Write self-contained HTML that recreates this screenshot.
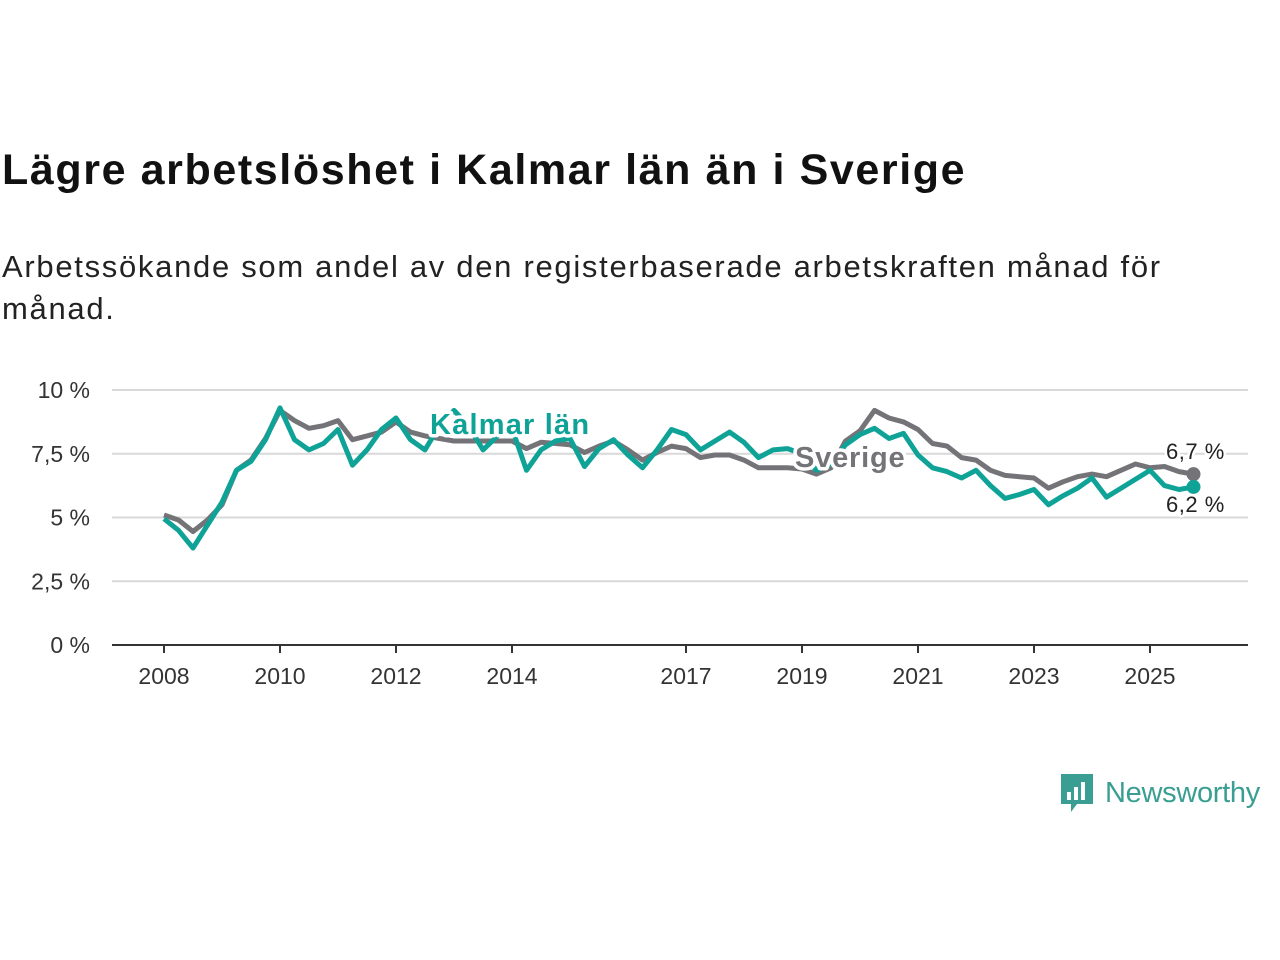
<!DOCTYPE html>
<html><head><meta charset="utf-8"><style>
body{margin:0;width:1280px;height:960px;background:#fff;font-family:"Liberation Sans","DejaVu Sans",sans-serif;overflow:hidden;position:relative}
h1{position:absolute;left:2px;top:146px;margin:0;font-size:43px;font-weight:bold;color:#111;letter-spacing:1.6px}
.sub{position:absolute;left:2px;top:246px;margin:0;font-size:31px;color:#222;line-height:42px;width:1270px;letter-spacing:1.7px}
svg{position:absolute;left:0;top:0}
</style></head><body>
<h1>Lägre arbetslöshet i Kalmar län än i Sverige</h1>
<p class="sub">Arbetssökande som andel av den registerbaserade arbetskraften månad för<br>månad.</p>
<svg id="c" width="1280" height="960"></svg>
<script>
const yTicks=[0,2.5,5,7.5,10];
const yTickLabels=["0 %","2,5 %","5 %","7,5 %","10 %"];
const xTicks=[2008,2010,2012,2014,2017,2019,2021,2023,2025];
const startYear=2008, step=0.25;
const sverige=[5.1,4.9,4.45,4.9,5.5,6.85,7.25,8.1,9.2,8.8,8.5,8.6,8.8,8.05,8.2,8.35,8.75,8.35,8.2,8.1,8.0,8.0,8.0,8.0,8.0,7.7,7.95,7.9,7.85,7.55,7.8,8.0,7.65,7.25,7.55,7.8,7.7,7.35,7.45,7.45,7.25,6.95,6.95,6.95,6.9,6.7,6.95,8.0,8.4,9.2,8.9,8.75,8.45,7.9,7.8,7.35,7.25,6.85,6.65,6.6,6.55,6.15,6.4,6.6,6.7,6.6,6.85,7.1,6.95,7.0,6.8,6.7];
const kalmar=[4.95,4.5,3.8,4.7,5.6,6.85,7.2,8.05,9.3,8.05,7.65,7.9,8.45,7.05,7.65,8.45,8.9,8.05,7.65,8.6,9.2,8.6,7.65,8.2,8.5,6.85,7.65,8.0,8.1,7.0,7.7,8.05,7.45,6.95,7.65,8.45,8.25,7.65,8.0,8.35,7.95,7.35,7.65,7.7,7.5,6.85,7.1,7.85,8.25,8.5,8.1,8.3,7.45,6.95,6.8,6.55,6.85,6.25,5.75,5.9,6.1,5.5,5.85,6.15,6.55,5.8,6.15,6.5,6.85,6.25,6.1,6.2];
const svgNS="http://www.w3.org/2000/svg",svg=document.getElementById('c');
const X=y=>164+(y-2008)*58, Y=v=>645-v*25.5;
function mk(t,a,txt){const e=document.createElementNS(svgNS,t);for(const k in a)e.setAttribute(k,a[k]);if(txt!=null)e.textContent=txt;svg.appendChild(e);return e;}
yTicks.forEach((v,i)=>{
 const g=mk('line',{x1:112,x2:1248,y1:Y(v),y2:Y(v),stroke:v===0?'#333':'#d9d9d9','stroke-width':2});
 
 
 const t=mk('text',{x:90,y:Y(v)+8,'text-anchor':'end','font-size':23,fill:'#333'},yTickLabels[i]);
 
 
});
xTicks.forEach(yr=>{
 const l=mk('line',{x1:X(yr),x2:X(yr),y1:645,y2:653,stroke:'#333','stroke-width':2});
 
 
 const t=mk('text',{x:X(yr),y:684,'text-anchor':'middle','font-size':23,fill:'#333'},String(yr));
 
 
});
function series(arr,col,name){
 const d=arr.map((v,i)=>(i?'L':'M')+X(startYear+i*step).toFixed(1)+','+Y(v).toFixed(1)).join('');
 const p=mk('path',{d:d,fill:'none',stroke:col,'stroke-width':5,'stroke-linejoin':'round'});
 
 
 const n=arr.length-1;
 const c=mk('circle',{cx:X(startYear+n*step),cy:Y(arr[n]),r:7,fill:col});
 
 
}
series(sverige,'#747378','sverige');
series(kalmar,'#0fa398','kalmar');
const lab=(x,y,txt,col,name,fw,fs,ls)=>{const t=mk('text',{x:x,y:y,fill:col,'font-size':fs,'font-weight':fw,'letter-spacing':ls,stroke:'#fff','stroke-width':fw==='bold'?7:5,'paint-order':'stroke','stroke-linejoin':'round'},txt);
 
 };
lab(430,434,'Kalmar län','#0fa398','kalmar-series-label','bold',29,1.2);
lab(795,467,'Sverige','#747378','sverige-series-label','bold',29,0.8);
lab(1166,459,'6,7 %','#222','sverige-end-value','normal',22,0.5);
lab(1166,512,'6,2 %','#222','kalmar-end-value','normal',22,0.5);
</script>
<div style="position:absolute;left:1059px;top:772px;height:42px;display:flex;align-items:center">
 <svg width="36" height="42" viewBox="0 0 36 42" style="position:static"><path d="M2 2h32v30H18l-6 8v-8H2z" fill="#3a9e92"/><rect x="8" y="20" width="4" height="8" fill="#fff"/><rect x="15" y="15" width="4" height="13" fill="#fff"/><rect x="22" y="10" width="4" height="18" fill="#fff"/></svg>
 <span style="font-size:29px;color:#3a9e92;margin-left:10px;font-weight:500;letter-spacing:-0.3px">Newsworthy</span>
</div>
</body></html>
